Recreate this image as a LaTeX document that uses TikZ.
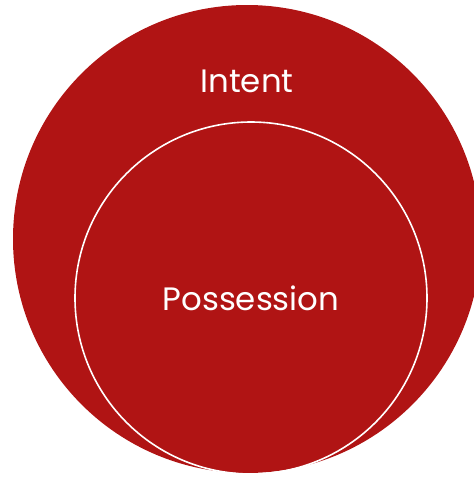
\documentclass[tikz,border=0pt]{standalone}
\usepackage{fontspec}
\setmainfont{Poppins}
\definecolor{venred}{HTML}{B01414}
\begin{document}
\begin{tikzpicture}[x=1pt,y=-1pt,
  lbl/.style={text=white,font=\fontsize{32.4}{36}\selectfont,inner sep=0pt,anchor=base}]
\useasboundingbox (0,0) rectangle (474,477);
\begin{scope}
\clip (0,0) rectangle (474,477);
\fill[venred] (247,239) circle[radius=234];
\end{scope}
\draw[white,line width=1.6pt] (251,298) circle[radius=176];
\node[lbl] (intent) at (247,92) {Intent};
\node[lbl] (poss) at (251,310) {Possession};
\end{tikzpicture}
\end{document}
